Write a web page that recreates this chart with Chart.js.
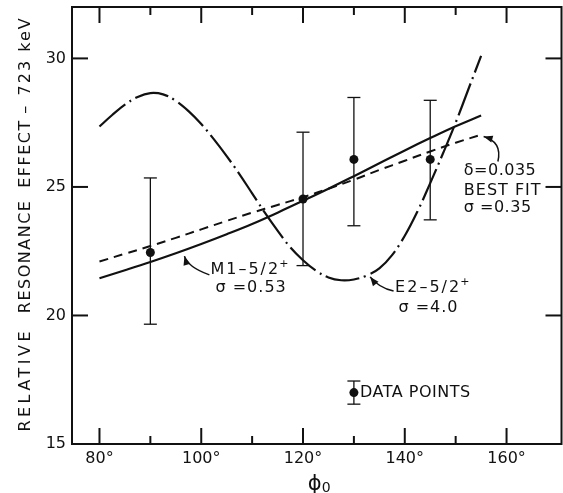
<!DOCTYPE html>
<html>
<head>
<meta charset="utf-8">
<script src="https://cdn.jsdelivr.net/npm/chart.js@4.4.1/dist/chart.umd.min.js"></script>
<style>
  html, body { margin: 0; padding: 0; background: #fff; overflow: hidden; }
</style>
</head>
<body>
<canvas id="c" width="566" height="493"></canvas>
<script>
// measured points with error bars
const pointAngles = [90, 120, 130, 145];
const pointValues = [22.45, 24.53, 26.07, 26.07];
const errLow = [19.66, 21.94, 23.49, 23.72];
const errHigh = [25.35, 27.13, 28.48, 28.37];

// legend sample point
const keyAngle = [130];
const keyValue = [17.0];
const keyLow = [16.55];
const keyHigh = [17.45];

// M1 and best fit curves, read every 5 deg
const curveAngles = [80, 85, 90, 95, 100, 105, 110, 115, 120, 125, 130, 135, 140, 145, 150, 155];
const m1Values = [21.45, 21.76, 22.08, 22.42, 22.78, 23.16, 23.56, 24.0, 24.46, 24.93, 25.42, 25.92, 26.42, 26.9, 27.36, 27.78];
const bestFitValues = [22.1, 22.4, 22.7, 23.02, 23.35, 23.68, 24.0, 24.3, 24.6, 24.93, 25.28, 25.66, 26.02, 26.38, 26.72, 27.03];

// E2 curve, read every 2.5 deg
const e2Angles = [80, 82.5, 85, 87.5, 90, 92.5, 95, 97.5, 100, 102.5, 105, 107.5, 110, 112.5, 115, 117.5,
  120, 122.5, 125, 127.5, 130, 132.5, 135, 137.5, 140, 142.5, 145, 147.5, 150, 152.5, 155];
const e2Values = [27.35, 27.8, 28.2, 28.5, 28.65, 28.6, 28.35, 27.95, 27.45, 26.85, 26.2, 25.5, 24.75, 24.0, 23.3, 22.65,
  22.15, 21.75, 21.48, 21.37, 21.4, 21.55, 21.83, 22.35, 23.1, 24.05, 25.15, 26.3, 27.5, 28.8, 30.1];

const xMajorTicks = [80, 100, 120, 140, 160];
const xMinorTicks = [90, 110, 130, 150];
const yTicks = [15, 20, 25, 30];

const FONT = "'DejaVu Sans', sans-serif";

const zip = (xs, ys) => xs.map((x, i) => ({ x: x, y: ys[i] }));

// frame, inward ticks, error bars, axis titles, notes and arrows
const decor = {
  id: 'decor',
  afterDatasetsDraw(chart) {
    const ctx = chart.ctx;
    const a = chart.chartArea;
    const xs = chart.scales.x, ys = chart.scales.y;
    const px = v => xs.getPixelForValue(v);
    const py = v => ys.getPixelForValue(v);

    ctx.save();
    ctx.strokeStyle = '#111';
    ctx.fillStyle = '#111';
    ctx.lineCap = 'butt';

    // box
    ctx.lineWidth = 2;
    ctx.strokeRect(a.left, a.top, a.right - a.left, a.bottom - a.top);

    // ticks pointing into the plot
    const seg = (x1, y1, x2, y2) => { ctx.beginPath(); ctx.moveTo(x1, y1); ctx.lineTo(x2, y2); ctx.stroke(); };
    xMajorTicks.forEach(v => { seg(px(v), a.bottom, px(v), a.bottom - 16); seg(px(v), a.top, px(v), a.top + 16); });
    xMinorTicks.forEach(v => { seg(px(v), a.bottom, px(v), a.bottom - 8); seg(px(v), a.top, px(v), a.top + 8); });
    yTicks.filter(v => v > 15).forEach(v => { seg(a.left, py(v), a.left + 16, py(v)); seg(a.right, py(v), a.right - 16, py(v)); });

    // error bars
    ctx.lineWidth = 1.3;
    const bar = (x, lo, hi) => {
      const X = px(x);
      seg(X, py(lo), X, py(hi));
      seg(X - 6.5, py(lo), X + 6.5, py(lo));
      seg(X - 6.5, py(hi), X + 6.5, py(hi));
    };
    pointAngles.forEach((x, i) => bar(x, errLow[i], errHigh[i]));
    keyAngle.forEach((x, i) => bar(x, keyLow[i], keyHigh[i]));

    // y axis title, word by word
    ctx.save();
    ctx.translate(26, 0);
    ctx.rotate(-Math.PI / 2);
    ctx.font = '16px ' + FONT;
    ctx.textAlign = 'center';
    ctx.textBaseline = 'middle';
    [['RELATIVE', 17.5, 3.5], ['RESONANCE', 22.3, 1.5], ['EFFECT', 26.3, 1.5], ['–', 28.0, 0], ['723 keV', 30.1, 2]]
      .forEach(w => { ctx.letterSpacing = w[2] + 'px'; ctx.fillText(w[0], -py(w[1]), 0); });
    ctx.restore();

    // x axis title
    ctx.font = '21px ' + FONT;
    ctx.textAlign = 'left';
    ctx.textBaseline = 'alphabetic';
    const cx = (a.left + a.right) / 2;
    ctx.fillText('ϕ', cx - 9, a.bottom + 46);
    ctx.font = '14px ' + FONT;
    ctx.fillText('0', cx + 5, a.bottom + 48);

    // text notes (anchored in data units)
    ctx.font = '16px ' + FONT;
    ctx.textBaseline = 'middle';
    const sup = (txt, x, y) => {
      ctx.letterSpacing = '2px';
      ctx.fillText(txt, px(x), py(y));
      const w = ctx.measureText(txt).width;
      ctx.font = '11px ' + FONT;
      ctx.fillText('+', px(x) + w - 1, py(y) - 6);
      ctx.font = '16px ' + FONT;
    };
    sup('M1–5/2', 101.8, 21.77);
    sup('E2–5/2', 138.1, 21.07);
    ctx.letterSpacing = '1px';
    ctx.fillText('BEST FIT', px(151.6), py(24.86));
    ctx.fillText('σ =0.53', px(102.8), py(21.07));
    ctx.fillText('σ =4.0', px(138.75), py(20.29));
    ctx.letterSpacing = '0.5px';
    ctx.fillText('δ=0.035', px(151.6), py(25.64));
    ctx.fillText('σ =0.35', px(151.6), py(24.19));
    ctx.fillText('DATA POINTS', px(131.2), py(17.0));
    ctx.letterSpacing = '0px';

    // curved arrows: tail, control, tip
    ctx.lineWidth = 1.5;
    const arrow = (t, c, h) => {
      const T = [px(t[0]), py(t[1])], C = [px(c[0]), py(c[1])], H = [px(h[0]), py(h[1])];
      ctx.beginPath();
      ctx.moveTo(T[0], T[1]);
      ctx.quadraticCurveTo(C[0], C[1], H[0], H[1]);
      ctx.stroke();
      const ang = Math.atan2(H[1] - C[1], H[0] - C[0]);
      ctx.beginPath();
      ctx.moveTo(H[0], H[1]);
      ctx.lineTo(H[0] - 9 * Math.cos(ang) + 3.5 * Math.sin(ang), H[1] - 9 * Math.sin(ang) - 3.5 * Math.cos(ang));
      ctx.lineTo(H[0] - 9 * Math.cos(ang) - 3.5 * Math.sin(ang), H[1] - 9 * Math.sin(ang) + 3.5 * Math.cos(ang));
      ctx.closePath();
      ctx.fill();
    };
    arrow([101.6, 21.58], [97.3, 21.89], [96.7, 22.31]);
    arrow([137.8, 20.95], [134.9, 21.07], [133.2, 21.5]);
    arrow([158.3, 25.99], [159.2, 26.75], [155.5, 26.96]);

    ctx.restore();
  }
};

new Chart(document.getElementById('c'), {
  type: 'scatter',
  data: {
    datasets: [
      { data: zip(pointAngles, pointValues), showLine: false, pointRadius: 4.5, pointBackgroundColor: '#111', pointBorderWidth: 0 },
      { data: zip(keyAngle, keyValue), showLine: false, pointRadius: 4.5, pointBackgroundColor: '#111', pointBorderWidth: 0 },
      { data: zip(curveAngles, m1Values), showLine: true, pointRadius: 0, borderColor: '#111', borderWidth: 2.2, tension: 0.4 },
      { data: zip(curveAngles, bestFitValues), showLine: true, pointRadius: 0, borderColor: '#111', borderWidth: 2, borderDash: [9, 6], tension: 0.4 },
      { data: zip(e2Angles, e2Values), showLine: true, pointRadius: 0, borderColor: '#111', borderWidth: 2.2, borderDash: [34, 5, 2, 5], tension: 0.4 }
    ]
  },
  options: {
    responsive: false,
    animation: false,
    devicePixelRatio: 1,
    layout: { padding: { top: 7, right: 0, left: 0, bottom: 0 } },
    plugins: { legend: { display: false }, tooltip: { enabled: false } },
    scales: {
      x: {
        type: 'linear', min: 74.6, max: 170.8,
        afterBuildTicks: s => { s.ticks = xMajorTicks.map(v => ({ value: v })); },
        afterFit: s => { s.height = 49; s.paddingLeft = 0; s.paddingRight = 0; },
        grid: { display: false, drawTicks: false }, border: { display: false },
        ticks: { color: '#111', font: { family: FONT, size: 16 }, padding: 5, maxRotation: 0, callback: v => v + '°' }
      },
      y: {
        min: 15, max: 32,
        afterBuildTicks: s => { s.ticks = yTicks.map(v => ({ value: v })); },
        afterFit: s => { s.width = 72; s.paddingTop = 0; s.paddingBottom = 0; },
        grid: { display: false, drawTicks: false }, border: { display: false },
        ticks: { color: '#111', font: { family: FONT, size: 16 }, padding: 6 }
      }
    }
  },
  plugins: [decor]
});
</script>
</body>
</html>
